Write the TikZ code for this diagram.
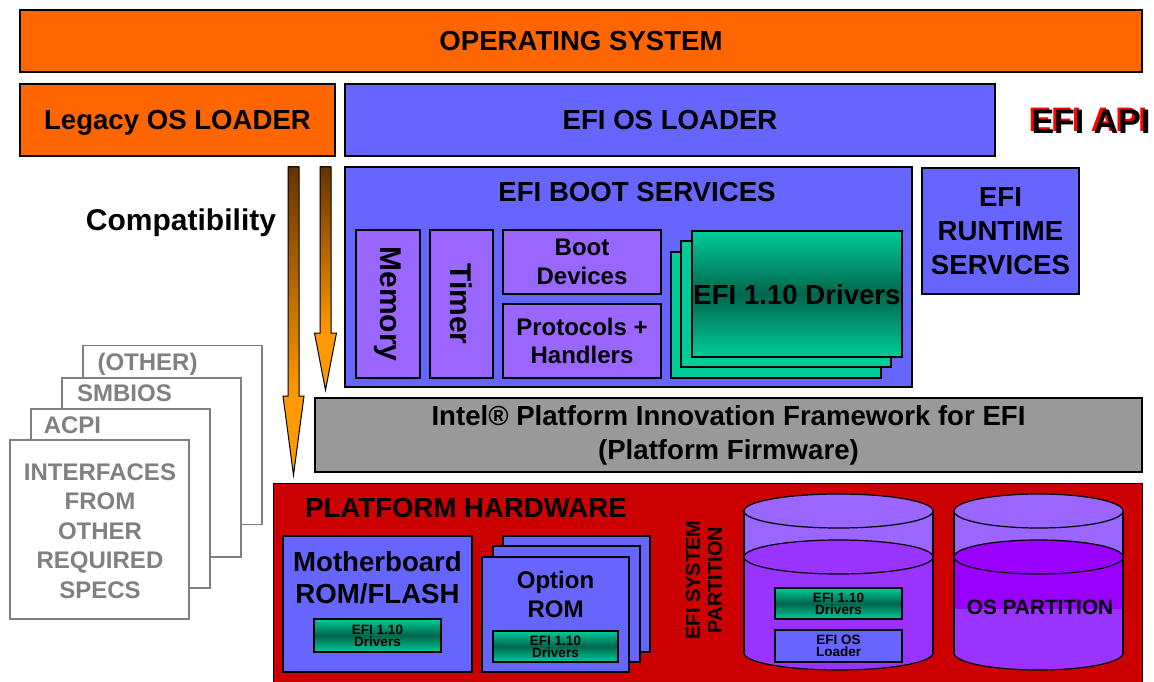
\documentclass[tikz,border=0pt]{standalone}
\usepackage{fontspec}
\setmainfont{Liberation Sans}
\newcommand\myfs[2]{\fontsize{#1}{#2}\selectfont}
\definecolor{osorange}{HTML}{FF6600}
\definecolor{efiblue}{HTML}{6666FF}
\definecolor{lilac}{HTML}{9966FF}
\definecolor{tealA}{HTML}{00CC99}
\definecolor{tealB}{HTML}{00664D}
\definecolor{fwgrey}{HTML}{999999}
\definecolor{hwred}{HTML}{CC0000}
\definecolor{specgrey}{HTML}{808080}
\definecolor{liq}{HTML}{9933FF}
\definecolor{liqB}{HTML}{9900FF}
\definecolor{arrbrown}{HTML}{663300}
\definecolor{arrorange}{HTML}{FF9900}
\tikzset{
  box/.style={draw=black, line width=1.2pt, rectangle, inner sep=0pt, align=center, font=\bfseries\myfs{27.6}{34}},
  txt/.style={inner sep=0pt, align=center, font=\bfseries\myfs{27.6}{34}},
  oneline/.style={text depth=0pt},
  drvbox/.style={box, top color=tealA, bottom color=tealA, middle color=tealB, font=\bfseries\myfs{13.5}{12}},
  specbox/.style={draw=specgrey, fill=white, line width=1.2pt, rectangle, inner sep=0pt, minimum width=179pt, minimum height=179pt},
  spectxt/.style={txt, text=specgrey, font=\bfseries\myfs{24}{29.5}},
  cylline/.style={draw=black, line width=1.2pt},
}
\begin{document}
\begin{tikzpicture}[x=1pt,y=-1pt]
\clip (0,0) rectangle (1154,682);
\fill[white] (0,0) rectangle (1154,682);

% top layers
\node[box, oneline, fill=osorange, minimum width=1122pt, minimum height=62pt] (os) at (581,41) {OPERATING SYSTEM};
\node[box, oneline, fill=osorange, minimum width=315pt, minimum height=72pt] (legacy) at (177.5,120) {Legacy OS LOADER};
\node[box, oneline, fill=efiblue, minimum width=650pt, minimum height=72pt] (efildr) at (670,120) {EFI OS LOADER};
\node[txt, oneline, font=\bfseries\myfs{34}{40}] (api) at (1091,121) {\makebox[0pt][l]{\raisebox{2.5pt}{\hspace{-3pt}\textcolor{red}{EFI API}}}EFI API};

% boot services
\node[box, fill=efiblue, minimum width=567pt, minimum height=220pt] (boot) at (628.5,277) {};
\node[txt, oneline] (boottitle) at (637,192) {EFI BOOT SERVICES};
\node[box, fill=efiblue, minimum width=157pt, minimum height=126pt] (rt) at (1000.5,231) {EFI\\RUNTIME\\SERVICES};
\node[box, fill=lilac, minimum width=64pt, minimum height=148pt] (mem) at (388,304) {};
\node[txt, rotate=-90, font=\bfseries\myfs{30}{34}] (memtxt) at (mem.center) {Memory};
\node[box, fill=lilac, minimum width=63pt, minimum height=148pt] (timer) at (461.5,304) {};
\node[txt, rotate=-90, font=\bfseries\myfs{30}{34}] (timertxt) at (timer.center) {Timer};
\node[box, fill=lilac, minimum width=158pt, minimum height=64pt, font=\bfseries\myfs{24}{29}] (bootdev) at (582,262) {Boot\\Devices};
\node[box, fill=lilac, minimum width=158pt, minimum height=74pt, font=\bfseries\myfs{24}{28}] (proto) at (582,341) {Protocols +\\Handlers};
\node[box, fill=tealA, minimum width=210pt, minimum height=126pt] (drv3) at (776,315) {};
\node[box, fill=tealA, minimum width=210pt, minimum height=126pt] (drv2) at (786,304) {};
\node[box, oneline, top color=tealA, bottom color=tealA, middle color=tealB, minimum width=210pt, minimum height=126pt] (drv1) at (797,294) {EFI 1.10 Drivers};

% compatibility arrows
\node[txt, oneline, font=\bfseries\myfs{30}{34}] (compat) at (181,220) {Compatibility};
\coordinate (a1top) at (293.5,167);
\coordinate (a1tip) at (293.5,475);
\coordinate (a2top) at (325.5,167);
\coordinate (a2tip) at (325.5,390);
\shade[top color=arrbrown, bottom color=arrorange] ([xshift=-5.5pt]a1top) rectangle ([xshift=5.5pt]a1tip |- 0,396);
\fill[arrorange] ([xshift=-10.5pt]a1tip |- 0,396) -- (a1tip) -- ([xshift=10.5pt]a1tip |- 0,396) -- cycle;
\draw[line width=1pt, line join=miter] ([xshift=-5.5pt]a1top) -- ([xshift=5.5pt]a1top) -- ([xshift=5.5pt]a1tip |- 0,396) -- ([xshift=10.5pt]a1tip |- 0,396) -- (a1tip) -- ([xshift=-10.5pt]a1tip |- 0,396) -- ([xshift=-5.5pt]a1tip |- 0,396) -- cycle;
\shade[top color=arrbrown, bottom color=arrorange] ([xshift=-5.5pt]a2top) rectangle ([xshift=5.5pt]a2tip |- 0,333);
\fill[arrorange] ([xshift=-11pt]a2tip |- 0,333) -- (a2tip) -- ([xshift=11pt]a2tip |- 0,333) -- cycle;
\draw[line width=1pt, line join=miter] ([xshift=-5.5pt]a2top) -- ([xshift=5.5pt]a2top) -- ([xshift=5.5pt]a2tip |- 0,333) -- ([xshift=11pt]a2tip |- 0,333) -- (a2tip) -- ([xshift=-11pt]a2tip |- 0,333) -- ([xshift=-5.5pt]a2tip |- 0,333) -- cycle;

% framework
\node[box, fill=fwgrey, minimum width=827pt, minimum height=74pt] (fw) at (728.5,435) {Intel® Platform Innovation Framework for EFI\\(Platform Firmware)};

% other specs stack
\node[specbox] (other) at (172.5,435) {};
\node[specbox] (smbios) at (151.5,467.5) {};
\node[specbox] (acpi) at (120.5,498.5) {};
\node[specbox] (intf) at (99.5,529.5) {};
\node[spectxt, oneline] (othertxt) at (147.5,362) {(OTHER)};
\node[spectxt, oneline] (smbiostxt) at (124.5,393) {SMBIOS};
\node[spectxt, oneline] (acpitxt) at (72.5,425) {ACPI};
\node[spectxt] (intftxt) at (100,531) {INTERFACES\\FROM\\OTHER\\REQUIRED\\SPECS};

% platform hardware
\node[box, fill=hwred, minimum width=869pt, minimum height=215pt, anchor=north west] (hw) at (273,483) {};
\node[txt, oneline] (hwtitle) at (466,508) {PLATFORM HARDWARE};
\node[box, fill=efiblue, minimum width=189pt, minimum height=136pt] (mobo) at (377.5,604) {};
\node[txt, font=\bfseries\myfs{27.6}{32}] (mobotxt) at (377.5,578) {Motherboard\\ROM/FLASH};
\node[drvbox, minimum width=127pt, minimum height=33pt] (modrv) at (377.5,635.5) {EFI 1.10\\Drivers};
\node[box, fill=efiblue, minimum width=147pt, minimum height=116pt] (opt3) at (576.5,594) {};
\node[box, fill=efiblue, minimum width=147pt, minimum height=116pt] (opt2) at (566.5,604) {};
\node[box, fill=efiblue, minimum width=147pt, minimum height=115pt] (opt1) at (555.5,614.5) {};
\node[txt, font=\bfseries\myfs{24}{29}] (opttxt) at (555.5,594) {Option\\ROM};
\node[drvbox, minimum width=125pt, minimum height=31pt] (optdrv) at (555.5,646.5) {EFI 1.10\\Drivers};
\node[txt, rotate=90, font=\bfseries\myfs{20}{22}] (esp) at (704,580) {EFI SYSTEM\\PARTITION};

% cylinder 1 (EFI system partition)
\coordinate (c1) at (838.5,511);
\fill[lilac] (744,511) rectangle (933,557);
\fill[liq] (744,557) rectangle (933,653);
\fill[liq] (838.5,653) ellipse [x radius=94.5pt, y radius=17pt];
\draw[cylline] (933,653) arc [start angle=0, end angle=-180, x radius=94.5pt, y radius=17pt];
\draw[cylline] (744,511) -- (744,653) (933,511) -- (933,653);
\filldraw[cylline, fill=liq] (838.5,557) ellipse [x radius=94.5pt, y radius=17pt];
\filldraw[cylline, fill=lilac] (c1) ellipse [x radius=94.5pt, y radius=17pt];
\node[drvbox, minimum width=127pt, minimum height=31pt] (cdrv) at (838.5,603.5) {EFI 1.10\\Drivers};
\node[box, fill=efiblue, minimum width=127pt, minimum height=32pt, font=\bfseries\myfs{13.5}{12}] (cldr) at (838.5,646) {EFI OS\\Loader};

% cylinder 2 (OS partition)
\coordinate (c2) at (1038.5,511);
\fill[lilac] (954,511) rectangle (1123,557);
\fill[liq] (954,557) rectangle (1123,653);
\fill[liqB] (954,557) rectangle (1123,609);
\fill[liq] (1038.5,653) ellipse [x radius=84.5pt, y radius=17pt];
\draw[cylline] (1123,653) arc [start angle=0, end angle=-180, x radius=84.5pt, y radius=17pt];
\draw[cylline] (954,511) -- (954,653) (1123,511) -- (1123,653);
\filldraw[cylline, fill=liqB] (1038.5,557) ellipse [x radius=84.5pt, y radius=17pt];
\filldraw[cylline, fill=lilac] (c2) ellipse [x radius=84.5pt, y radius=17pt];
\node[txt, oneline, font=\bfseries\myfs{20.8}{24}] (ospart) at (1040,607) {OS PARTITION};
\end{tikzpicture}
\end{document}
